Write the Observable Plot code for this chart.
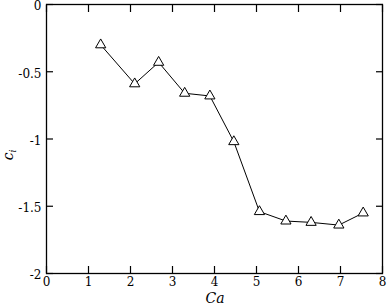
<!DOCTYPE html>
<html>
<head>
<meta charset="utf-8">
<script src="https://cdn.jsdelivr.net/npm/d3@7"></script>
<script src="https://cdn.jsdelivr.net/npm/@observablehq/plot@0.6"></script>
<style>
html, body { margin: 0; padding: 0; background: #fff; }
svg { display: block; }
</style>
</head>
<body>
<div id="chart"></div>
<script>
const ca = [1.29, 2.10, 2.67, 3.29, 3.89, 4.46, 5.07, 5.70, 6.30, 6.96, 7.54];
const ci = [-0.30, -0.59, -0.43, -0.66, -0.68, -1.02, -1.54, -1.61, -1.62, -1.64, -1.55];
const xTicks = [0, 1, 2, 3, 4, 5, 6, 7, 8];
const yTicks = [0, -0.5, -1, -1.5, -2];

const data = ca.map((x, i) => ({x, y: ci[i]}));
const font = "'DejaVu Serif', 'Liberation Serif', serif";

const plot = Plot.plot({
  width: 388,
  height: 307,
  marginLeft: 46,
  marginRight: 6,
  marginTop: 4,
  marginBottom: 34,
  style: {fontFamily: font, fontSize: "12px", color: "#000", background: "#fff"},
  x: {domain: [0, 8]},
  y: {domain: [-2, 0]},
  marks: [
    Plot.frame({stroke: "#000", strokeWidth: 1.3}),
    Plot.axisX(xTicks, {anchor: "bottom", tickSize: -7, fill: "none", label: null, strokeWidth: 1.2}),
    Plot.axisX(xTicks, {anchor: "top", tickSize: -7, fill: "none", label: null, strokeWidth: 1.2}),
    Plot.axisY(yTicks, {anchor: "left", tickSize: -7, fill: "none", label: null, strokeWidth: 1.2}),
    Plot.axisY(yTicks, {anchor: "right", tickSize: -7, fill: "none", label: null, strokeWidth: 1.2}),
    Plot.axisX(xTicks, {anchor: "bottom", tickSize: 0, tickPadding: 4, tickFormat: d => String(d), label: null, fontSize: 12}),
    Plot.axisY(yTicks, {anchor: "left", tickSize: 0, tickPadding: 5, dy: 2, tickFormat: d => String(d), label: null, fontSize: 12}),
    Plot.line(data, {x: "x", y: "y", stroke: "#000", strokeWidth: 1}),
    Plot.dot(data, {x: "x", y: "y", symbol: "triangle", r: 3.8, stroke: "#000", fill: "#fff", strokeWidth: 1})
  ]
});

const svg = d3.select(plot);
svg.append("text")
  .attr("x", 215).attr("y", 303)
  .attr("text-anchor", "middle")
  .attr("font-family", font)
  .attr("font-style", "italic")
  .attr("font-size", 14)
  .attr("fill", "#000")
  .text("Ca");
const yl = svg.append("text")
  .attr("transform", "translate(13,155) rotate(-90)")
  .attr("text-anchor", "middle")
  .attr("font-family", font)
  .attr("font-style", "italic")
  .attr("font-size", 14)
  .attr("fill", "#000");
yl.append("tspan").text("c");
yl.append("tspan").attr("font-size", 9).attr("dy", 3).text("i");

document.getElementById("chart").appendChild(plot);
</script>
</body>
</html>
